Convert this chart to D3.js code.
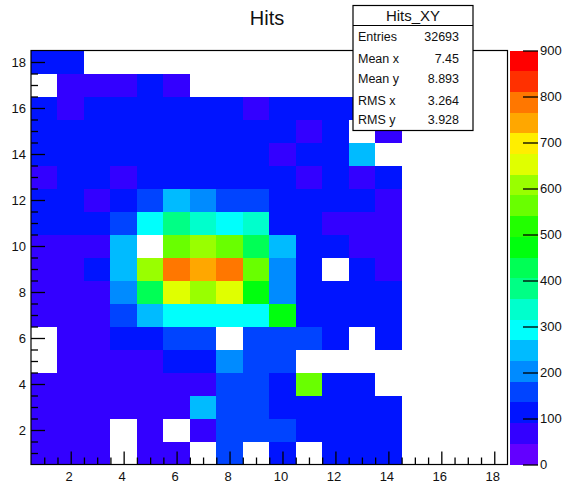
<!DOCTYPE html>
<html>
<head>
<meta charset="utf-8">
<script src="https://cdn.jsdelivr.net/npm/d3@7/dist/d3.min.js"></script>
<style>
  html, body { margin: 0; padding: 0; background: #fff; }
  svg { display: block; font-family: "Liberation Sans", Arial, Helvetica, sans-serif; }
</style>
</head>
<body>
<svg id="chart" width="569" height="488"></svg>
<script>
// Bin centres on both axes (1..18), tick labels and colour-scale labels
const xBins = d3.range(1, 19);
const yBins = d3.range(1, 19);
const xTickLabels = [2, 4, 6, 8, 10, 12, 14, 16, 18];
const yTickLabels = [2, 4, 6, 8, 10, 12, 14, 16, 18];
const zTickLabels = [0, 100, 200, 300, 400, 500, 600, 700, 800, 900];

// Hit counts per row (y bin), columns are x bins 1..18; 0 = empty bin
const y18 = [104, 112, 0, 0, 0, 0, 0, 0, 0, 0, 0, 0, 0, 0, 0, 0, 0, 0];
const y17 = [0, 71, 68, 77, 98, 74, 0, 0, 0, 0, 0, 0, 0, 0, 0, 0, 0, 0];
const y16 = [117, 82, 103, 109, 114, 118, 106, 111, 86, 105, 112, 100, 108, 104, 0, 0, 0, 0];
const y15 = [121, 116, 109, 124, 118, 113, 127, 119, 110, 102, 84, 96, 0, 79, 0, 0, 0, 0];
const y14 = [108, 115, 120, 126, 123, 118, 122, 117, 113, 88, 101, 97, 248, 0, 0, 0, 0, 0];
const y13 = [86, 119, 107, 83, 125, 129, 131, 120, 114, 108, 87, 104, 81, 99, 0, 0, 0, 0];
const y12 = [112, 109, 84, 128, 162, 251, 207, 158, 166, 121, 115, 106, 97, 78, 0, 0, 0, 0];
const y11 = [118, 124, 131, 156, 292, 383, 338, 296, 341, 127, 109, 79, 83, 75, 0, 0, 0, 0];
const y10 = [80, 84, 87, 244, 0, 561, 602, 566, 428, 252, 118, 104, 82, 72, 0, 0, 0, 0];
const y9  = [76, 83, 122, 236, 597, 789, 746, 781, 557, 203, 116, 0, 98, 86, 0, 0, 0, 0];
const y8  = [72, 78, 81, 196, 432, 652, 609, 661, 478, 206, 131, 124, 113, 101, 0, 0, 0, 0];
const y7  = [74, 79, 84, 161, 243, 298, 305, 301, 287, 466, 128, 119, 111, 107, 0, 0, 0, 0];
const y6  = [0, 71, 77, 126, 132, 164, 158, 0, 171, 168, 152, 122, 0, 96, 0, 0, 0, 0];
const y5  = [0, 69, 74, 81, 85, 118, 124, 199, 159, 148, 0, 0, 0, 0, 0, 0, 0, 0];
const y4  = [73, 70, 76, 82, 84, 79, 86, 153, 161, 129, 568, 112, 104, 0, 0, 0, 0, 0];
const y3  = [67, 72, 75, 78, 83, 81, 239, 157, 162, 133, 117, 108, 99, 92, 0, 0, 0, 0];
const y2  = [64, 68, 71, 0, 77, 0, 82, 146, 155, 151, 121, 113, 102, 94, 0, 0, 0, 0];
const y1  = [59, 63, 66, 0, 72, 69, 0, 141, 0, 126, 0, 109, 98, 91, 0, 0, 0, 0];
const rows = [y1, y2, y3, y4, y5, y6, y7, y8, y9, y10, y11, y12, y13, y14, y15, y16, y17, y18];

// Statistics box contents
const statsTitle = "Hits_XY";
const statsNames = ["Entries", "Mean x", "Mean y", "RMS x", "RMS y"];
const statsValues = ["32693", "7.45", "8.893", "3.264", "3.928"];

const zMax = 900, nLevels = 20;

const svg = d3.select("#chart");

const frame = { left: 31, right: 507.5, top: 50.5, bottom: 464.5 };
const x = d3.scaleLinear().domain([0.5, 18.5]).range([frame.left, frame.right]);
const y = d3.scaleLinear().domain([0.5, 18.5]).range([frame.bottom, frame.top]);
const z = d3.scaleLinear().domain([0, zMax]).range([frame.bottom, frame.top]);

// Violet -> red "pretty" palette: 50 HLS hues, sampled for 20 contour levels
const pretty = d3.range(50).map(i => d3.hsl(280 - (i + 1) * 5.6, 1, 0.5).formatHex());
const levelColors = d3.range(nLevels).map(k => pretty[Math.floor((k + 0.99) * 50 / nLevels)]);
const color = d3.scaleQuantize().domain([0, zMax]).range(levelColors);

// Flatten into cells
const cells = [];
rows.forEach((row, j) => row.forEach((v, i) => {
  if (v > 0) cells.push({ xb: xBins[i], yb: yBins[j], v });
}));

svg.append("g")
  .attr("shape-rendering", "crispEdges")
  .selectAll("rect")
  .data(cells)
  .join("rect")
  .attr("x", d => x(d.xb - 0.5))
  .attr("y", d => y(d.yb + 0.5))
  .attr("width", d => x(d.xb + 0.5) - x(d.xb - 0.5))
  .attr("height", d => y(d.yb - 0.5) - y(d.yb + 0.5))
  .attr("fill", d => color(d.v));

// Frame
svg.append("rect")
  .attr("x", frame.left)
  .attr("y", frame.top)
  .attr("width", frame.right - frame.left)
  .attr("height", frame.bottom - frame.top)
  .attr("fill", "none")
  .attr("stroke", "#000")
  .attr("stroke-width", 1.2);

const minorTicks = d3.range(1, 18.01, 0.5).filter(t => t % 2 !== 0);

// X axis: major + minor ticks pointing into the frame
const gxMinor = svg.append("g")
  .attr("transform", `translate(0,${frame.bottom})`)
  .call(d3.axisBottom(x).tickValues(minorTicks).tickSize(-7).tickFormat(""));
const gx = svg.append("g")
  .attr("transform", `translate(0,${frame.bottom})`)
  .call(d3.axisBottom(x).tickValues(xTickLabels).tickSize(-13).tickPadding(7));

// Y axis
const gyMinor = svg.append("g")
  .attr("transform", `translate(${frame.left},0)`)
  .call(d3.axisLeft(y).tickValues(minorTicks).tickSize(-7).tickFormat(""));
const gy = svg.append("g")
  .attr("transform", `translate(${frame.left},0)`)
  .call(d3.axisLeft(y).tickValues(yTickLabels).tickSize(-14).tickPadding(5));

[gx, gy, gxMinor, gyMinor].forEach(g => {
  g.select(".domain").remove();
  g.selectAll(".tick line").attr("stroke", "#000").attr("stroke-width", 1.3);
  g.selectAll(".tick text").attr("font-size", 13).attr("fill", "#111")
    .attr("font-family", "'Liberation Sans', Arial, sans-serif");
});
gx.selectAll(".tick text").attr("dx", -2);

// Colour scale bar
const bar = { left: 510, right: 538 };
const levels = d3.range(nLevels).map(k => ({ lo: k * zMax / nLevels, hi: (k + 1) * zMax / nLevels, c: levelColors[k] }));
svg.append("g")
  .attr("shape-rendering", "crispEdges")
  .selectAll("rect")
  .data(levels)
  .join("rect")
  .attr("x", bar.left)
  .attr("y", d => z(d.hi))
  .attr("width", bar.right - bar.left)
  .attr("height", d => z(d.lo) - z(d.hi))
  .attr("fill", d => d.c);

const gz = svg.append("g")
  .attr("transform", `translate(${bar.right},0)`)
  .call(d3.axisRight(z).tickValues(zTickLabels).tickSize(-15).tickPadding(2));
gz.select(".domain").remove();
gz.selectAll(".tick line").attr("stroke", "#000").attr("stroke-width", 1.3);
gz.selectAll(".tick text").attr("font-size", 13).attr("fill", "#111")
  .attr("font-family", "'Liberation Sans', Arial, sans-serif");

// Title
svg.append("text")
  .attr("x", 267)
  .attr("y", 25)
  .attr("text-anchor", "middle")
  .attr("font-size", 20)
  .attr("fill", "#111")
  .text("Hits");

// Statistics box
const box = { left: 353, right: 473, top: 5.5, bottom: 130.5, sep: 25.5 };
const sg = svg.append("g");
sg.append("rect")
  .attr("x", box.left).attr("y", box.top)
  .attr("width", box.right - box.left).attr("height", box.bottom - box.top)
  .attr("fill", "#fff").attr("stroke", "#000").attr("stroke-width", 1.2);
sg.append("line")
  .attr("x1", box.left).attr("x2", box.right)
  .attr("y1", box.sep).attr("y2", box.sep)
  .attr("stroke", "#000").attr("stroke-width", 1);
sg.append("text")
  .attr("x", (box.left + box.right) / 2).attr("y", 21)
  .attr("text-anchor", "middle").attr("font-size", 15).attr("fill", "#111")
  .text(statsTitle);
const rowBase = [40.5, 62.5, 82.5, 104.5, 124];
statsNames.forEach((n, i) => {
  sg.append("text").attr("x", 358).attr("y", rowBase[i])
    .attr("font-size", 12.5).attr("fill", "#111").text(n);
  sg.append("text").attr("x", 459).attr("y", rowBase[i])
    .attr("text-anchor", "end").attr("font-size", 12.5).attr("fill", "#111").text(statsValues[i]);
});
</script>
</body>
</html>
